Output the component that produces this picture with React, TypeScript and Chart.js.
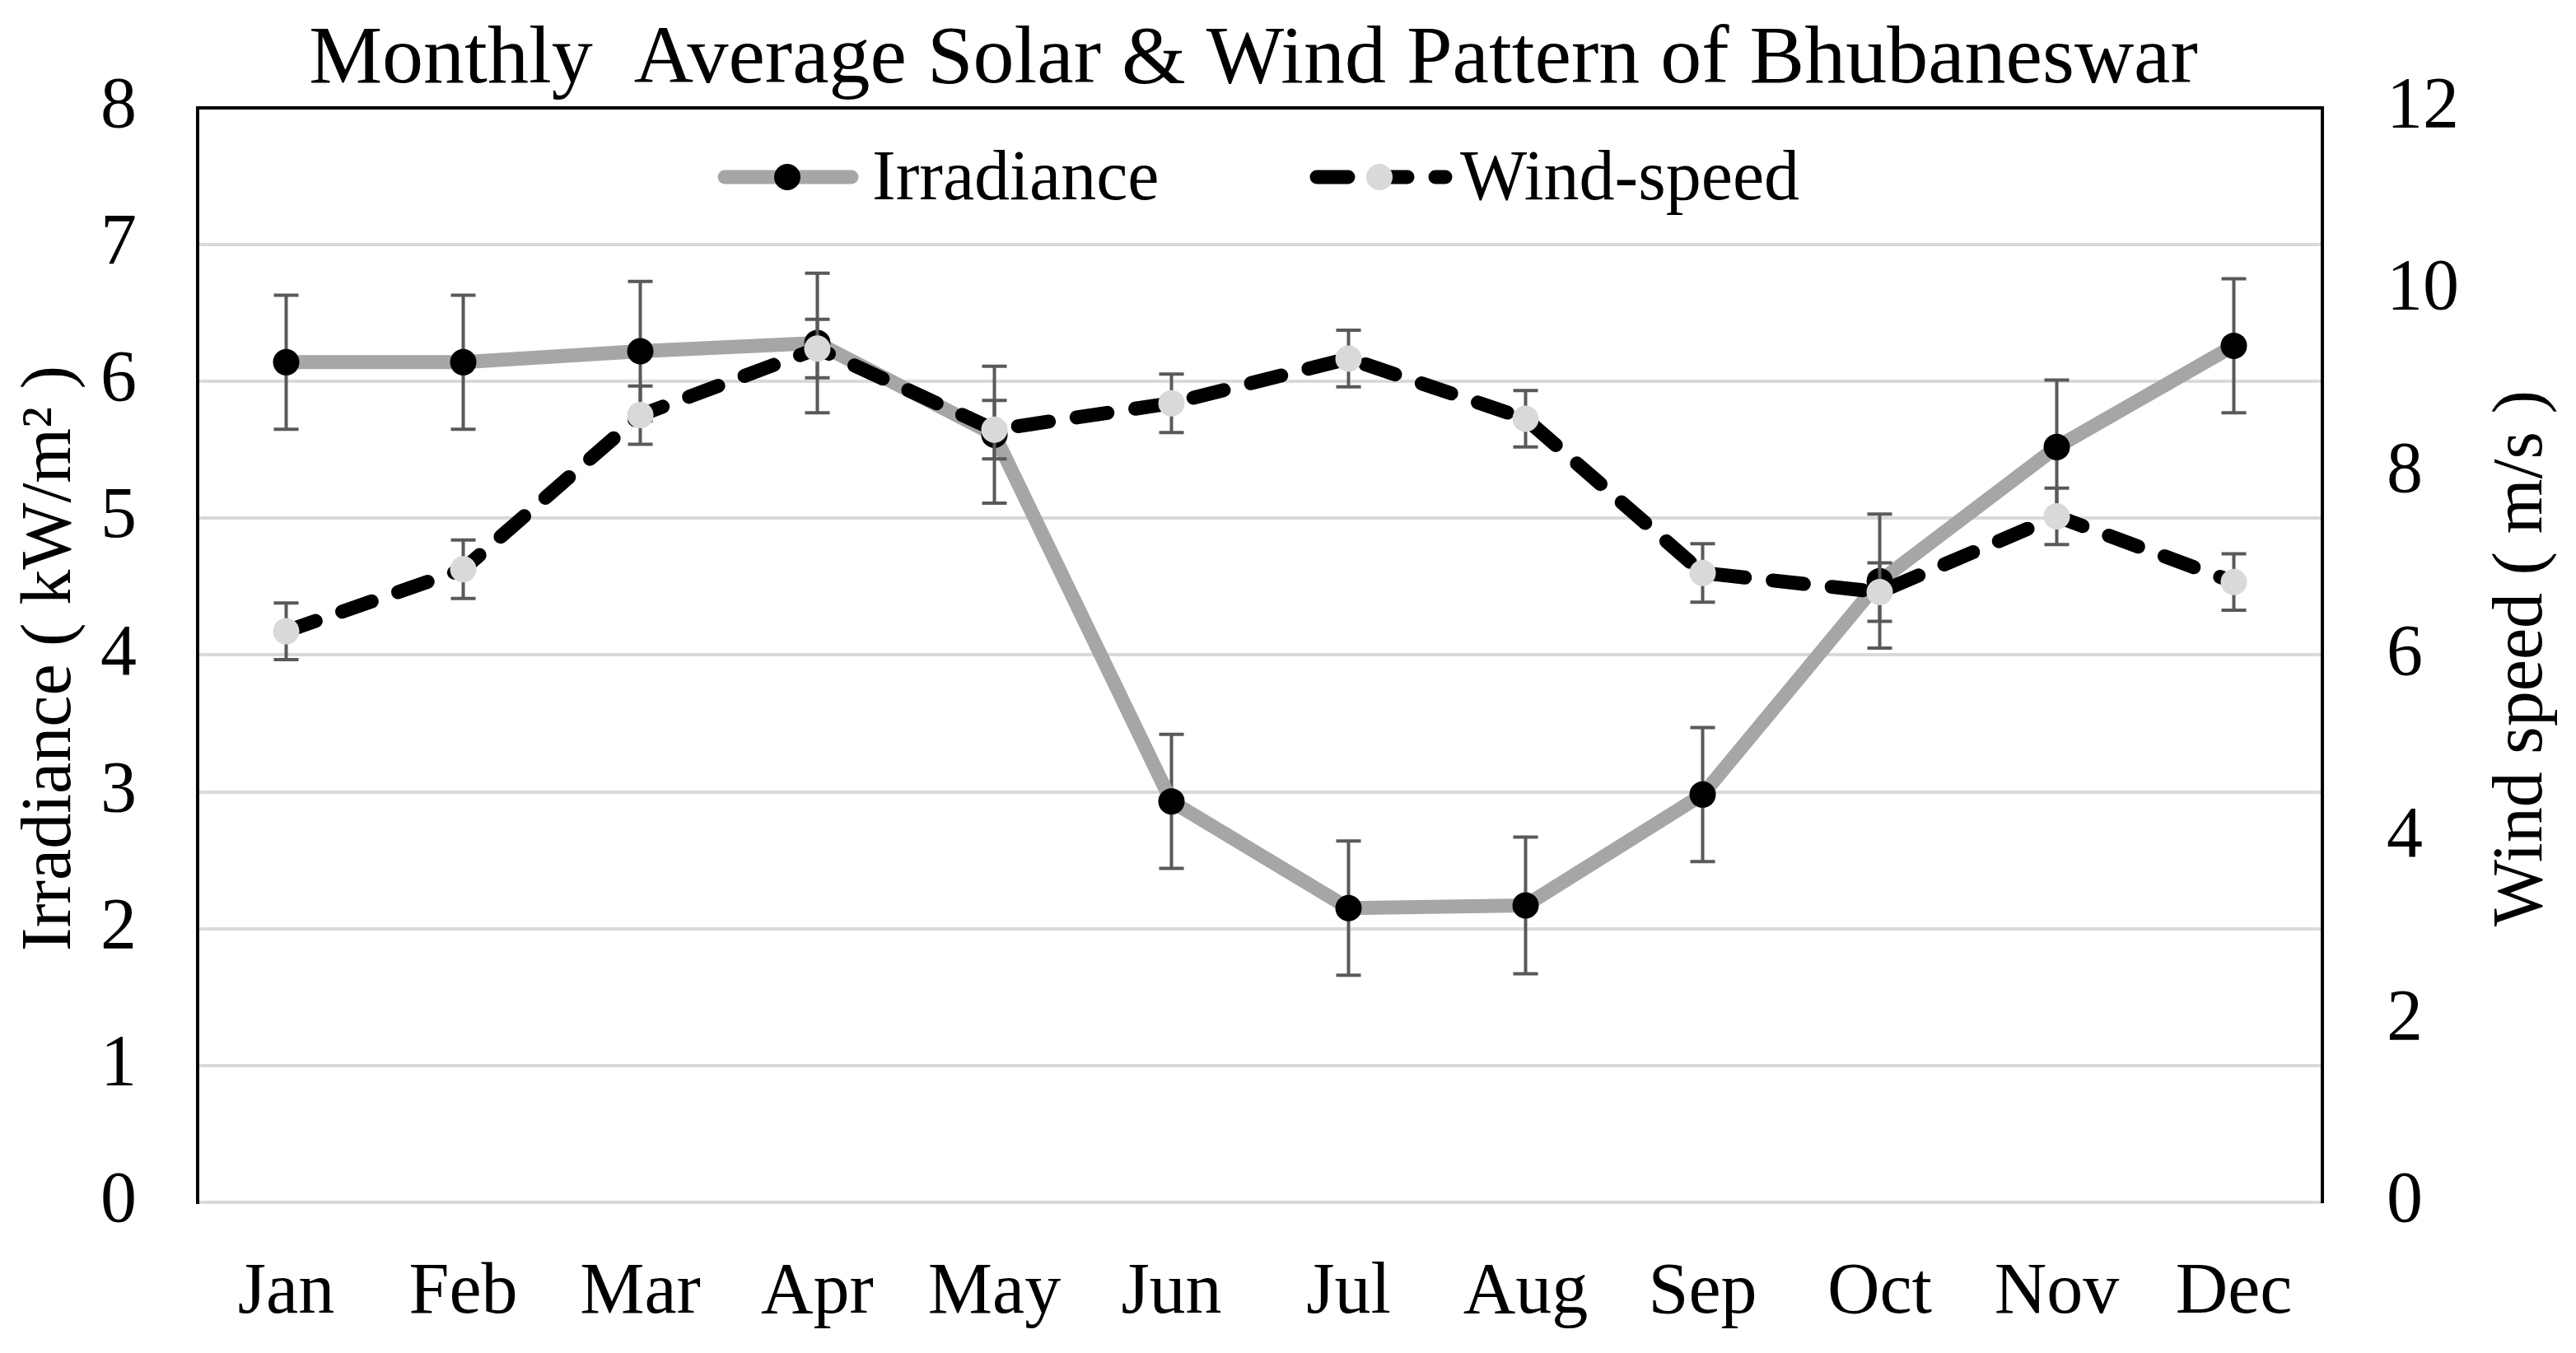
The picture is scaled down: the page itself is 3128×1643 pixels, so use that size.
import React, { useEffect, useRef } from 'react';
import { Chart, registerables } from 'chart.js';

Chart.register(...registerables);

const months = ['Jan', 'Feb', 'Mar', 'Apr', 'May', 'Jun', 'Jul', 'Aug', 'Sep', 'Oct', 'Nov', 'Dec'];
const irradiance = [6.14, 6.14, 6.22, 6.28, 5.61, 2.93, 2.15, 2.17, 2.98, 4.54, 5.52, 6.26];
const irradianceErr = [0.49, 0.49, 0.51, 0.51, 0.5, 0.49, 0.49, 0.5, 0.49, 0.49, 0.49, 0.49];
const windSpeed = [6.26, 6.94, 8.63, 9.36, 8.47, 8.76, 9.25, 8.59, 6.9, 6.69, 7.52, 6.8];
const windErr = [0.31, 0.32, 0.32, 0.32, 0.32, 0.32, 0.31, 0.31, 0.32, 0.32, 0.31, 0.31];
const irrAxis = { min: 0, max: 8, step: 1 };
const windAxis = { min: 0, max: 12, step: 2 };

const TITLE = 'Monthly  Average Solar & Wind Pattern of Bhubaneswar';
const LEFT_TITLE = 'Irradiance ( kW/m\u00B2 )';
const RIGHT_TITLE = 'Wind speed ( m/s )';
const LEGEND_IRR = 'Irradiance';
const LEGEND_WIND = 'Wind-speed';

const W = 3128;
const H = 1643;
const FONT = "'Liberation Serif', 'Times New Roman', serif";
const IRR_LINE = '#a6a6a6';
const WIND_MARK = '#d9d9d9';
const ERR_COLOR = '#595959';
const WIND_DASH = [38, 34];

const decorPlugin = {
  id: 'decor',
  beforeDatasetDraw(chart: any, args: any) {
    const ds = chart.data.datasets[args.index];
    const errs: number[] = ds.errors;
    if (!errs) return;
    const meta = args.meta;
    const ys = chart.scales[ds.yAxisID];
    const ctx = chart.ctx;
    ctx.save();
    ctx.strokeStyle = ERR_COLOR;
    ctx.lineWidth = 4;
    ctx.setLineDash([]);
    meta.data.forEach((pt: any, i: number) => {
      const v = ds.data[i];
      const top = ys.getPixelForValue(v + errs[i]);
      const bot = ys.getPixelForValue(v - errs[i]);
      const x = pt.x;
      ctx.beginPath();
      ctx.moveTo(x, top);
      ctx.lineTo(x, bot);
      ctx.moveTo(x - 15, top);
      ctx.lineTo(x + 15, top);
      ctx.moveTo(x - 15, bot);
      ctx.lineTo(x + 15, bot);
      ctx.stroke();
    });
    ctx.restore();
  },
  afterDraw(chart: any) {
    const ctx = chart.ctx;
    const area = chart.chartArea;
    ctx.save();
    ctx.fillStyle = '#000';
    // title
    ctx.font = `100px ${FONT}`;
    ctx.textAlign = 'center';
    ctx.textBaseline = 'alphabetic';
    ctx.fillText(TITLE, 1522, 100);

    // axis titles (both read bottom-to-top)
    ctx.font = `86px ${FONT}`;
    ctx.textBaseline = 'middle';
    const midY = (area.top + area.bottom) / 2 + 4;
    ctx.save();
    ctx.translate(62, midY);
    ctx.rotate(-Math.PI / 2);
    ctx.fillText(LEFT_TITLE, 0, 0);
    ctx.restore();
    ctx.save();
    ctx.translate(3063, midY);
    ctx.rotate(-Math.PI / 2);
    ctx.fillText(RIGHT_TITLE, 0, 0);
    ctx.restore();

    // legend
    const ly = 215;
    ctx.lineCap = 'round';
    ctx.strokeStyle = IRR_LINE;
    ctx.lineWidth = 17;
    ctx.beginPath();
    ctx.moveTo(880, ly);
    ctx.lineTo(1034, ly);
    ctx.stroke();
    ctx.fillStyle = '#000';
    ctx.beginPath();
    ctx.arc(956, ly, 16, 0, Math.PI * 2);
    ctx.fill();
    ctx.textAlign = 'left';
    ctx.fillText(LEGEND_IRR, 1059, ly + 4);

    ctx.strokeStyle = '#000';
    ctx.lineWidth = 17;
    ctx.setLineDash(WIND_DASH);
    ctx.beginPath();
    ctx.moveTo(1599, ly);
    ctx.lineTo(1755, ly);
    ctx.stroke();
    ctx.setLineDash([]);
    ctx.fillStyle = WIND_MARK;
    ctx.beginPath();
    ctx.arc(1675, ly, 16, 0, Math.PI * 2);
    ctx.fill();
    ctx.fillStyle = '#000';
    ctx.fillText(LEGEND_WIND, 1773, ly + 4);
    ctx.restore();
  },
};

export default function App() {
  const ref = useRef<HTMLCanvasElement | null>(null);
  useEffect(() => {
    if (!ref.current) return;
    const chart = new Chart(ref.current, {
      type: 'line',
      data: {
        labels: months,
        datasets: [
          {
            label: LEGEND_IRR,
            data: irradiance,
            errors: irradianceErr,
            yAxisID: 'y',
            order: 1,
            borderColor: IRR_LINE,
            borderWidth: 17,
            borderJoinStyle: 'round',
            borderCapStyle: 'round',
            pointRadius: 16,
            pointBackgroundColor: '#000',
            pointBorderWidth: 0,
            tension: 0,
          } as any,
          {
            label: LEGEND_WIND,
            data: windSpeed,
            errors: windErr,
            yAxisID: 'y1',
            order: 0,
            borderColor: '#000',
            borderWidth: 17,
            borderDash: WIND_DASH,
            borderCapStyle: 'round',
            borderJoinStyle: 'round',
            pointRadius: 16,
            pointBackgroundColor: WIND_MARK,
            pointBorderWidth: 0,
            tension: 0,
          } as any,
        ],
      },
      options: {
        animation: false,
        responsive: false,
        devicePixelRatio: 1,
        layout: { padding: { top: 128, left: 0, right: 0, bottom: 0 } },
        plugins: {
          legend: { display: false },
          title: { display: false },
          tooltip: { enabled: false },
        },
        scales: {
          x: {
            type: 'category',
            offset: true,
            grid: { display: false, drawTicks: false },
            border: { display: true, color: '#d9d9d9', width: 4 },
            ticks: {
              color: '#000',
              font: { family: FONT, size: 88 },
              padding: 58,
              maxRotation: 0,
              autoSkip: false,
            },
            afterFit: (s: any) => {
              s.height = H - 1460;
            },
          },
          y: {
            position: 'left',
            min: irrAxis.min,
            max: irrAxis.max,
            ticks: {
              stepSize: irrAxis.step,
              color: '#000',
              font: { family: FONT, size: 88 },
              padding: 74,
            },
            grid: {
              drawTicks: false,
              lineWidth: 4,
              color: (c: any) => (c.tick && c.tick.value === irrAxis.max ? '#000' : '#d9d9d9'),
            },
            border: { display: true, color: '#000', width: 4 },
            afterFit: (s: any) => {
              s.width = 240;
            },
          },
          y1: {
            position: 'right',
            min: windAxis.min,
            max: windAxis.max,
            ticks: {
              stepSize: windAxis.step,
              color: '#000',
              font: { family: FONT, size: 88 },
              padding: 78,
            },
            grid: { display: false, drawTicks: false },
            border: { display: true, color: '#000', width: 4 },
            afterFit: (s: any) => {
              s.width = W - 2820;
            },
          },
        },
      } as any,
      plugins: [decorPlugin],
    });
    return () => chart.destroy();
  }, []);

  return (
    <div style={{ position: 'fixed', left: 0, top: 0, width: W, height: H, background: '#fff' }}>
      <canvas ref={ref} width={W} height={H} style={{ width: W, height: H, display: 'block' }} />
    </div>
  );
}
